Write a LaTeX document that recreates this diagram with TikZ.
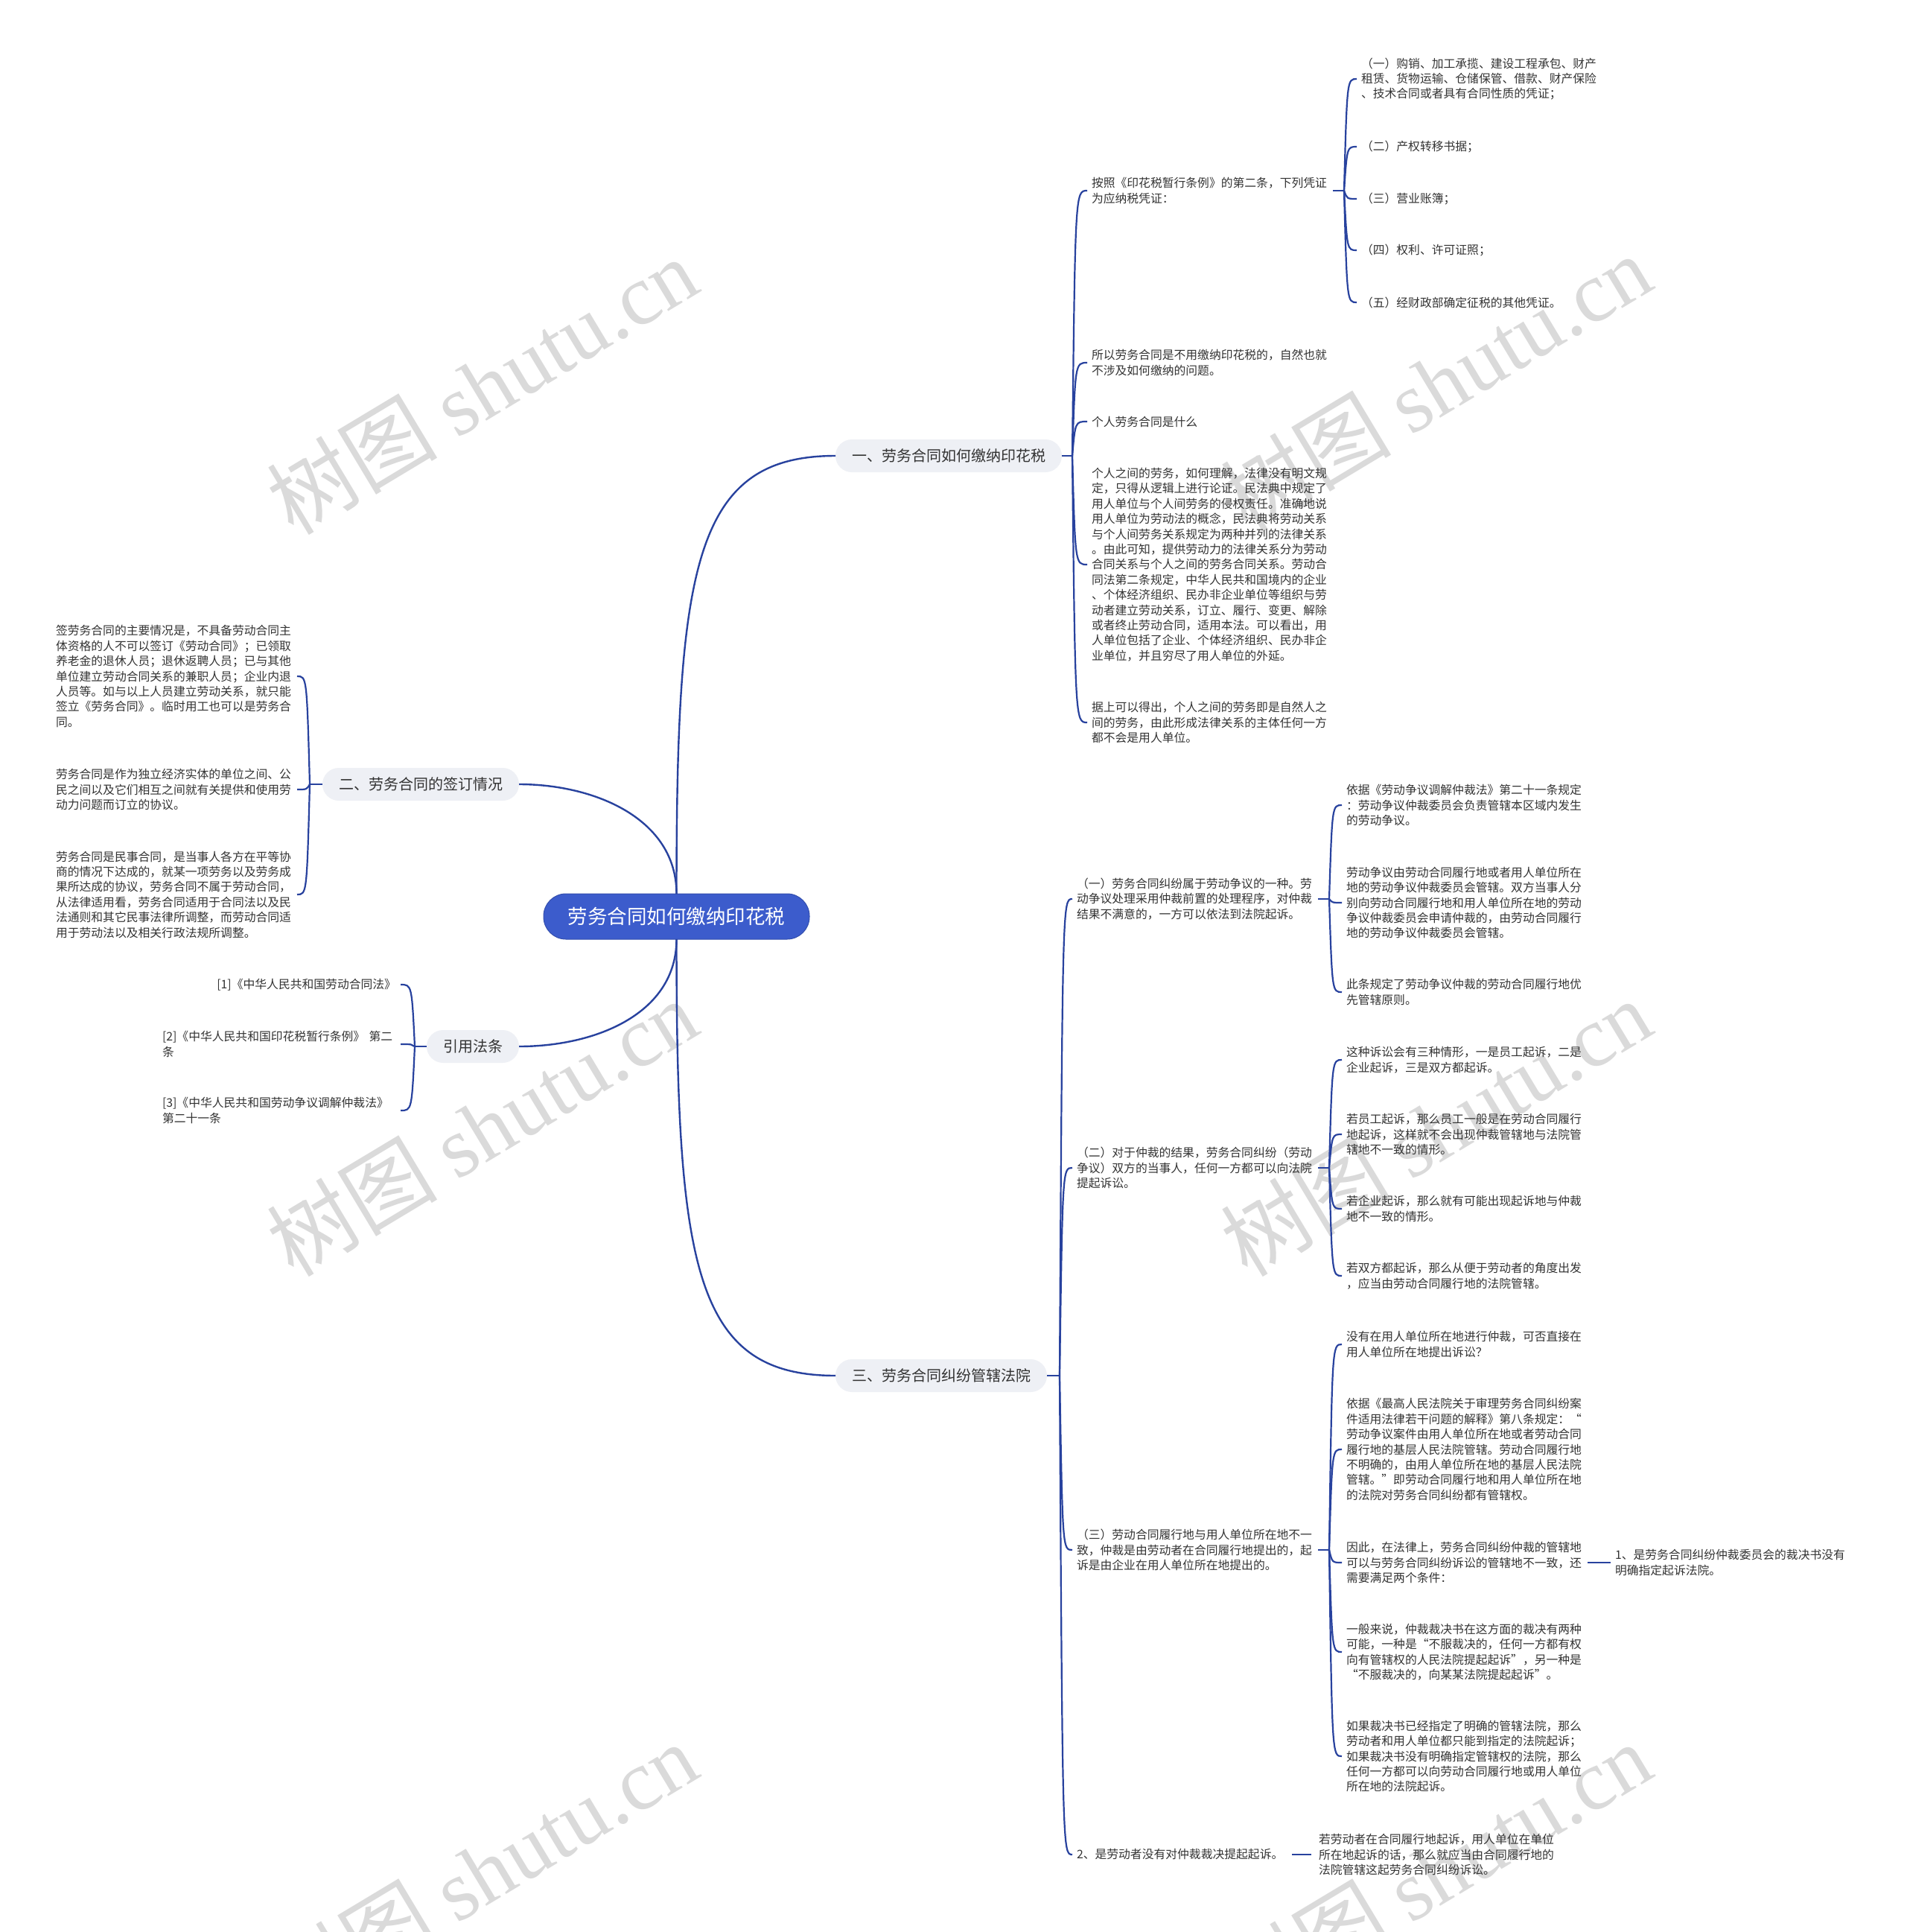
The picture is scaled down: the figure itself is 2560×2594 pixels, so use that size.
\documentclass[tikz,border=0pt]{standalone}
\usepackage{fontspec}
\setmainfont{Noto Sans CJK SC}
\newfontfamily\wmlatin{Liberation Serif}
\usetikzlibrary{calc}
\definecolor{linec}{RGB}{40,66,158}
\definecolor{rootc}{RGB}{60,92,204}
\definecolor{branchc}{RGB}{238,240,245}
\definecolor{txt}{RGB}{51,51,51}
\definecolor{wmc}{RGB}{218,218,218}
\tikzset{
  every node/.style={inner sep=0pt, outer sep=0pt},
  leaf/.style={font=\fontsize{15.8}{20.4}\selectfont, text=txt, align=left, inner xsep=6pt, inner ysep=2pt},
  leafw/.style={leaf, text width=318pt},
  leafr/.style={leaf, text width=314pt},
  rootbox/.style={fill=rootc, draw=rootc!85!black, line width=1pt, rounded corners=30pt,
    minimum width=357pt, minimum height=61pt, text=white, font=\fontsize{26.5}{30}\selectfont},
  branch/.style={fill=branchc, rounded corners=22pt, minimum height=44pt, inner xsep=22pt,
    text=txt, font=\fontsize{20}{24}\selectfont},
  mainline/.style={draw=linec, line width=2.4pt},
  conn/.style={draw=linec, line width=2.2pt},
  wm/.style={text=wmc, font=\fontsize{115}{115}\selectfont, rotate=31}
}
\newcommand\hookR[2]{\draw[conn] (#1) .. controls ($(#1|-#2.west)+(4,0)$) and ($(#1|-#2.west)+(4,0)$) .. (#2.west);}
\newcommand\hookL[2]{\draw[conn] (#1) .. controls ($(#1|-#2.east)+(-4,0)$) and ($(#1|-#2.east)+(-4,0)$) .. (#2.east);}
\begin{document}
\begin{tikzpicture}[x=1pt,y=-1pt]
\fill[white] (0,0) rectangle (2560,2594);
\useasboundingbox (0,0) rectangle (2560,2594);
% watermarks
\foreach \wx/\wy [count=\i] in {647/518,1928/514,647/1514,1928/1514,647/2512,1928/2512}
  \node[wm] (wm\i) at (\wx,\wy) {树图 {\wmlatin shutu.cn}};

% root and branches
\node[rootbox] (root) at (908.5,1230.5) {劳务合同如何缴纳印花税};
\node[branch, anchor=west] (b1) at (1122,612) {一、劳务合同如何缴纳印花税};
\node[branch, anchor=east] (b2) at (697,1053) {二、劳务合同的签订情况};
\node[branch, anchor=east] (b4) at (697,1405) {引用法条};
\node[branch, anchor=west] (b3) at (1122,1847) {三、劳务合同纠纷管辖法院};

\draw[mainline] (root.north) .. controls ($(root.north)+(0,-440)$) and ($(b1.west)+(-190,0)$) .. (b1.west);
\draw[mainline] (root.south) .. controls ($(root.south)+(0,440)$) and ($(b3.west)+(-190,0)$) .. (b3.west);
\draw[mainline] (root.north) .. controls ($(root.north)+(0,-100)$) and ($(b2.east)+(103,0)$) .. (b2.east);
\draw[mainline] (root.south) .. controls ($(root.south)+(0,100)$) and ($(b4.east)+(103,0)$) .. (b4.east);

% branch 1 children
\node[leafw, anchor=west] (c1) at (1460,256) {按照《印花税暂行条例》的第二条，下列凭证\\为应纳税凭证：};
\node[leafw, anchor=west] (c2) at (1460,487) {所以劳务合同是不用缴纳印花税的，自然也就\\不涉及如何缴纳的问题。};
\node[leafw, anchor=west] (c3) at (1460,566) {个人劳务合同是什么};
\node[leafw, anchor=west] (c4) at (1460,758) {个人之间的劳务，如何理解，法律没有明文规\\定，只得从逻辑上进行论证。民法典中规定了\\用人单位与个人间劳务的侵权责任。准确地说\\用人单位为劳动法的概念，民法典将劳动关系\\与个人间劳务关系规定为两种并列的法律关系\\。由此可知，提供劳动力的法律关系分为劳动\\合同关系与个人之间的劳务合同关系。劳动合\\同法第二条规定，中华人民共和国境内的企业\\、个体经济组织、民办非企业单位等组织与劳\\动者建立劳动关系，订立、履行、变更、解除\\或者终止劳动合同，适用本法。可以看出，用\\人单位包括了企业、个体经济组织、民办非企\\业单位，并且穷尽了用人单位的外延。};
\node[leafw, anchor=west] (c5) at (1460,970) {据上可以得出，个人之间的劳务即是自然人之\\间的劳务，由此形成法律关系的主体任何一方\\都不会是用人单位。};
\coordinate (j1) at ($(b1.east)+(14,0)$);
\draw[conn] (b1.east) -- (j1);
\foreach \n in {c1,c2,c3,c4,c5} {\hookR{j1}{\n}}

% c1 children
\node[leafw, anchor=west] (g1) at (1822,106) {（一）购销、加工承揽、建设工程承包、财产\\租赁、货物运输、仓储保管、借款、财产保险\\、技术合同或者具有合同性质的凭证；};
\node[leafw, anchor=west] (g2) at (1822,197) {（二）产权转移书据；};
\node[leafw, anchor=west] (g3) at (1822,267) {（三）营业账簿；};
\node[leafw, anchor=west] (g4) at (1822,336) {（四）权利、许可证照；};
\node[leafw, anchor=west] (g5) at (1822,406) {（五）经财政部确定征税的其他凭证。};
\coordinate (jc1) at ($(c1.east)+(15,0)$);
\draw[conn] (c1.east) -- (jc1);
\foreach \n in {g1,g2,g3,g4,g5} {\hookR{jc1}{\n}}

% branch 2 children
\node[leafw, anchor=east] (d1) at (399,908) {签劳务合同的主要情况是，不具备劳动合同主\\体资格的人不可以签订《劳动合同》；已领取\\养老金的退休人员；退休返聘人员；已与其他\\单位建立劳动合同关系的兼职人员；企业内退\\人员等。如与以上人员建立劳动关系，就只能\\签立《劳务合同》。临时用工也可以是劳务合\\同。};
\node[leafw, anchor=east] (d2) at (399,1060) {劳务合同是作为独立经济实体的单位之间、公\\民之间以及它们相互之间就有关提供和使用劳\\动力问题而订立的协议。};
\node[leafw, anchor=east] (d3) at (399,1201) {劳务合同是民事合同，是当事人各方在平等协\\商的情况下达成的，就某一项劳务以及劳务成\\果所达成的协议，劳务合同不属于劳动合同，\\从法律适用看，劳务合同适用于合同法以及民\\法通则和其它民事法律所调整，而劳动合同适\\用于劳动法以及相关行政法规所调整。};
\coordinate (j2) at ($(b2.west)+(-17,0)$);
\draw[conn] (b2.west) -- (j2);
\foreach \n in {d1,d2,d3} {\hookL{j2}{\n}}

% references
\node[leaf, anchor=east] (r1) at (538,1322) {[1]《中华人民共和国劳动合同法》};
\node[leafr, anchor=east] (r2) at (538,1402) {[2]《中华人民共和国印花税暂行条例》 第二\\条};
\node[leafr, anchor=east] (r3) at (538,1491) {[3]《中华人民共和国劳动争议调解仲裁法》\\第二十一条};
\coordinate (j4) at ($(b4.west)+(-16,0)$);
\draw[conn] (b4.west) -- (j4);
\foreach \n in {r1,r2,r3} {\hookL{j4}{\n}}

% branch 3 children
\node[leafw, anchor=west] (e1) at (1440,1207) {（一）劳务合同纠纷属于劳动争议的一种。劳\\动争议处理采用仲裁前置的处理程序，对仲裁\\结果不满意的，一方可以依法到法院起诉。};
\node[leafw, anchor=west] (e2) at (1440,1568) {（二）对于仲裁的结果，劳务合同纠纷（劳动\\争议）双方的当事人，任何一方都可以向法院\\提起诉讼。};
\node[leafw, anchor=west] (e3) at (1440,2081) {（三）劳动合同履行地与用人单位所在地不一\\致，仲裁是由劳动者在合同履行地提出的，起\\诉是由企业在用人单位所在地提出的。};
\node[leaf, anchor=west] (e4) at (1440,2490) {2、是劳动者没有对仲裁裁决提起起诉。};
\coordinate (j3) at ($(b3.east)+(17,0)$);
\draw[conn] (b3.east) -- (j3);
\foreach \n in {e1,e2,e3,e4} {\hookR{j3}{\n}}

% e1 children
\node[leafw, anchor=west] (f1) at (1802,1081) {依据《劳动争议调解仲裁法》第二十一条规定\\：劳动争议仲裁委员会负责管辖本区域内发生\\的劳动争议。};
\node[leafw, anchor=west] (f2) at (1802,1212) {劳动争议由劳动合同履行地或者用人单位所在\\地的劳动争议仲裁委员会管辖。双方当事人分\\别向劳动合同履行地和用人单位所在地的劳动\\争议仲裁委员会申请仲裁的，由劳动合同履行\\地的劳动争议仲裁委员会管辖。};
\node[leafw, anchor=west] (f3) at (1802,1332) {此条规定了劳动争议仲裁的劳动合同履行地优\\先管辖原则。};
\coordinate (je1) at ($(e1.east)+(15,0)$);
\draw[conn] (e1.east) -- (je1);
\foreach \n in {f1,f2,f3} {\hookR{je1}{\n}}

% e2 children
\node[leafw, anchor=west] (h1) at (1802,1423) {这种诉讼会有三种情形，一是员工起诉，二是\\企业起诉，三是双方都起诉。};
\node[leafw, anchor=west] (h2) at (1802,1523) {若员工起诉，那么员工一般是在劳动合同履行\\地起诉，这样就不会出现仲裁管辖地与法院管\\辖地不一致的情形。};
\node[leafw, anchor=west] (h3) at (1802,1623) {若企业起诉，那么就有可能出现起诉地与仲裁\\地不一致的情形。};
\node[leafw, anchor=west] (h4) at (1802,1713) {若双方都起诉，那么从便于劳动者的角度出发\\，应当由劳动合同履行地的法院管辖。};
\coordinate (je2) at ($(e2.east)+(15,0)$);
\draw[conn] (e2.east) -- (je2);
\foreach \n in {h1,h2,h3,h4} {\hookR{je2}{\n}}

% e3 children
\node[leafw, anchor=west] (k1) at (1802,1805) {没有在用人单位所在地进行仲裁，可否直接在\\用人单位所在地提出诉讼？};
\node[leafw, anchor=west] (k2) at (1802,1946) {依据《最高人民法院关于审理劳务合同纠纷案\\件适用法律若干问题的解释》第八条规定：“\\劳动争议案件由用人单位所在地或者劳动合同\\履行地的基层人民法院管辖。劳动合同履行地\\不明确的，由用人单位所在地的基层人民法院\\管辖。”即劳动合同履行地和用人单位所在地\\的法院对劳务合同纠纷都有管辖权。};
\node[leafw, anchor=west] (k3) at (1802,2098) {因此，在法律上，劳务合同纠纷仲裁的管辖地\\可以与劳务合同纠纷诉讼的管辖地不一致，还\\需要满足两个条件：};
\node[leafw, anchor=west] (k4) at (1802,2218) {一般来说，仲裁裁决书在这方面的裁决有两种\\可能，一种是“不服裁决的，任何一方都有权\\向有管辖权的人民法院提起起诉”，另一种是\\“不服裁决的，向某某法院提起起诉”。};
\node[leafw, anchor=west] (k5) at (1802,2358) {如果裁决书已经指定了明确的管辖法院，那么\\劳动者和用人单位都只能到指定的法院起诉；\\如果裁决书没有明确指定管辖权的法院，那么\\任何一方都可以向劳动合同履行地或用人单位\\所在地的法院起诉。};
\coordinate (je3) at ($(e3.east)+(15,0)$);
\draw[conn] (e3.east) -- (je3);
\foreach \n in {k1,k2,k3,k4,k5} {\hookR{je3}{\n}}

\node[leafw, anchor=west] (m1) at (2163,2098) {1、是劳务合同纠纷仲裁委员会的裁决书没有\\明确指定起诉法院。};
\draw[conn] (k3.east) -- (m1.west);

% e4 child
\node[leafw, anchor=west] (l1) at (1765,2490) {若劳动者在合同履行地起诉，用人单位在单位\\所在地起诉的话，那么就应当由合同履行地的\\法院管辖这起劳务合同纠纷诉讼。};
\draw[conn, shorten <=6pt, shorten >=4pt] (e4.east) -- (l1.west);
\end{tikzpicture}
\end{document}
